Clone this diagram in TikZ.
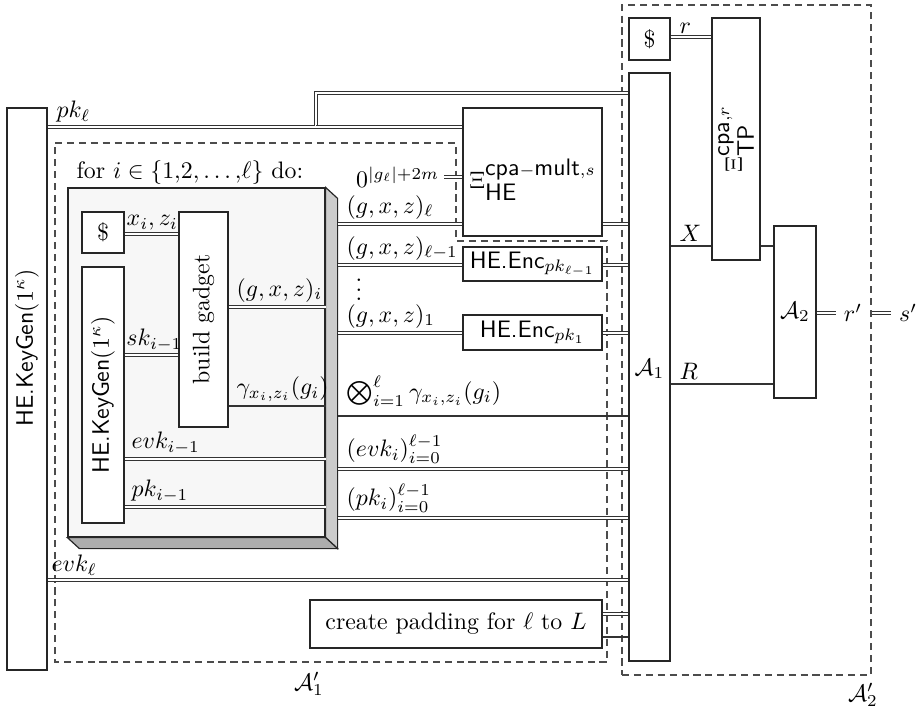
\documentclass[tikz,border=0pt]{standalone}
\usetikzlibrary{fit,calc}
\begin{document}
\begin{tikzpicture}[x=0.42pt,y=-0.42pt,
 box/.style={draw=black!85, line width=0.5pt, fill=white, inner sep=0pt},
 dbl/.style={draw=black!80, line width=0.4pt, double=white, double distance=0.9pt},
 sgl/.style={draw=black!80, line width=0.5pt},
 dashbox/.style={draw=black!70, line width=0.5pt, dash pattern=on 3pt off 2pt, inner sep=0pt},
 lbl/.style={inner sep=0.5pt, anchor=south west},
 txt/.style={inner sep=0pt}]
\useasboundingbox (0,0) rectangle (921,711);

% dashed regions
\draw[dashbox] (55,143) -- (456,143) -- (456,241) -- (607,241) -- (607,662) -- (55,662) -- cycle;
\node[dashbox, fit={(622,5)(871,675)}] (a2p) {};

% outer keygen
\node[box, fit={(7,108)(47,670)}] (kg) {};
\node[rotate=90, txt] (kgl) at (27,348) {\textsf{HE.KeyGen}$(1^\kappa)$};

% loop box (3D)
\node[draw=black!85, fill=black!3, line width=0.5pt, inner sep=0pt, fit={(68,188)(325,537)}] (loop) {};
\filldraw[draw=black!85, fill=black!20, line width=0.5pt] (loop.north east) -- ++(12,11) -- ($(loop.south east)+(12,11)$) -- (loop.south east) -- cycle;
\filldraw[draw=black!85, fill=black!32, line width=0.5pt] (loop.south west) -- (loop.south east) -- ++(12,11) -- ($(loop.south west)+(12,11)$) -- cycle;
\coordinate (sideE) at ($(loop.north east)+(12,0)$);

% inner boxes
\node[box, fit={(82,212)(124,253)}] (dl) {};
\node[txt] (dll) at (dl.center) {\$};
\node[box, fit={(82,267)(124,523)}] (ikg) {};
\node[rotate=90, txt] (ikgl) at (ikg.center) {\textsf{HE.KeyGen}$(1^\kappa)$};
\node[box, fit={(179,212)(228,427)}] (bg) {};
\node[rotate=90, txt] (bgl) at (bg.center) {build gadget};

% right boxes
\node[box, fit={(463,108)(602,236)}] (xi) {};
\node[txt] (xil) at ($(xi.center)+(0,8)$) {$\Xi^{\textsf{cpa}-\textsf{mult},s}_{\textsf{HE}}$};
\node[box, fit={(463,247)(602,281)}] (encl) {};
\node[txt] (encll) at (encl.center) {\textsf{HE.Enc}$_{pk_{\ell-1}}$};
\node[box, fit={(463,315)(602,350)}] (enc1) {};
\node[txt] (enc1l) at (enc1.center) {\textsf{HE.Enc}$_{pk_{1}}$};
\node[box, fit={(310,600)(602,648)}] (pad) {};
\node[txt] (padl) at (pad.center) {create padding for $\ell$ to $L$};
\node[box, fit={(629,18)(670,60)}] (dr) {};
\node[txt] (drl) at (dr.center) {\$};
\node[box, fit={(629,73)(670,661)}] (a1) {};
\node[txt] (a1l) at ($(a1.center)+(0,2)$) {$\mathcal{A}_1$};
\node[box, fit={(712,18)(760,260)}] (tp) {};
\node[rotate=90, txt] (tpl) at (tp.center) {$\Xi^{\textsf{cpa},r}_{\textsf{TP}}$};
\node[box, fit={(774,226)(816,398)}] (a2) {};
\node[txt] (a2l) at (a2.center) {$\mathcal{A}_2$};
\node (rp) at (853,313) {$r'$};
\node (sp) at (908,313) {$s'$};

% inner lines
\draw[dbl] (dl.east |- 0,234) -- (bg.west |- 0,234);
\draw[dbl] (ikg.east |- 0,355) -- (bg.west |- 0,355);
\draw[dbl] (bg.east |- 0,307) -- (loop.east |- 0,307);
\draw[sgl] (bg.east |- 0,406) -- (loop.east |- 0,406);
\draw[dbl] (ikg.east |- 0,459) -- (loop.east |- 0,459);
\draw[dbl] (ikg.east |- 0,507) -- (loop.east |- 0,507);

% pk_l
\coordinate (split) at (316,127);
\draw[dbl] (kg.east |- split) -| (split |- 0,93) -- (a1.west |- 0,93);
\draw[dbl] (split) -- (xi.west |- split);

% outputs of loop
\draw[dbl] (sideE |- 0,224) -- (xi.west |- 0,224);
\draw[dbl] (xi.east |- 0,224) -- (a1.west |- 0,224);
\draw[dbl] (sideE |- 0,265) -- (encl.west |- 0,265);
\draw[dbl] (encl.east |- 0,265) -- (a1.west |- 0,265);
\draw[dbl] (sideE |- 0,333) -- (enc1.west |- 0,333);
\draw[dbl] (enc1.east |- 0,333) -- (a1.west |- 0,333);
\draw[sgl] (sideE |- 0,416) -- (a1.west |- 0,416);
\draw[dbl] (sideE |- 0,469) -- (a1.west |- 0,469);
\draw[dbl] (sideE |- 0,518) -- (a1.west |- 0,518);
\draw[dbl] (kg.east |- 0,580) -- (a1.west |- 0,580);
\draw[dbl] (pad.east |- 0,614) -- (a1.west |- 0,614);
\draw[sgl] (pad.east |- 0,637) -- (a1.west |- 0,637);
\coordinate (zin) at (444,177);
\draw[dbl] (zin) -- (xi.west |- zin);
\node[anchor=base east, inner sep=1pt] (zl) at (442,188) {$0^{|g_\ell|+2m}$};

% A1 / A2 side
\draw[dbl] (dr.east |- 0,37) -- (tp.west |- 0,37);
\draw[sgl] (a1.east |- 0,246) -- (tp.west |- 0,246);
\draw[sgl] (tp.east |- 0,246) -- (a2.west |- 0,246);
\draw[sgl] (a1.east |- 0,384) -- (a2.west |- 0,384);
\draw[dbl] (a2.east |- rp) -- (rp.west);
\draw[dbl] (a2p.east |- sp) -- (sp.west);

% labels
\node[lbl] (lpk) at (55,124) {$pk_\ell$};
\node[lbl] (levk) at (50,577) {$evk_\ell$};
\node[lbl] (lfor) at (75,186) {for $i \in \{1{,}2{,}\dots{,}\ell\}$ do:};
\node[lbl] (lxz) at (125,232) {$x_i,z_i$};
\node[lbl, inner sep=0pt] (lsk) at (126,352) {$sk_{i-1}$};
\node[lbl] (lgi) at (235,304) {$(g,x,z)_i$};
\node[lbl] (lgam) at (235,403) {$\gamma_{x_i,z_i}(g_i)$};
\node[lbl] (levki) at (130,456) {$evk_{i-1}$};
\node[lbl] (lpki) at (130,504) {$pk_{i-1}$};
\node[lbl] (lgl) at (345,221) {$(g,x,z)_\ell$};
\node[lbl] (lgl1) at (345,262) {$(g,x,z)_{\ell-1}$};
\node[txt, anchor=base] (ldots) at (359,301) {\smash{$\vdots$}};
\node[lbl] (lg1) at (345,330) {$(g,x,z)_1$};
\node[lbl] (lotimes) at (345,408) {$\bigotimes_{i=1}^{\ell}\gamma_{x_i,z_i}(g_i)$};
\node[lbl] (levks) at (345,465) {$(evk_i)_{i=0}^{\ell-1}$};
\node[lbl] (lpks) at (345,514) {$(pk_i)_{i=0}^{\ell-1}$};
\node[lbl] (lr) at (678,35) {$r$};
\node[lbl] (lX) at (678,243) {$X$};
\node[lbl] (lR) at (678,381) {$R$};
\node (la1p) at (309,684) {$\mathcal{A}_1'$};
\node (la2p) at (863,695) {$\mathcal{A}_2'$};
\end{tikzpicture}
\end{document}
